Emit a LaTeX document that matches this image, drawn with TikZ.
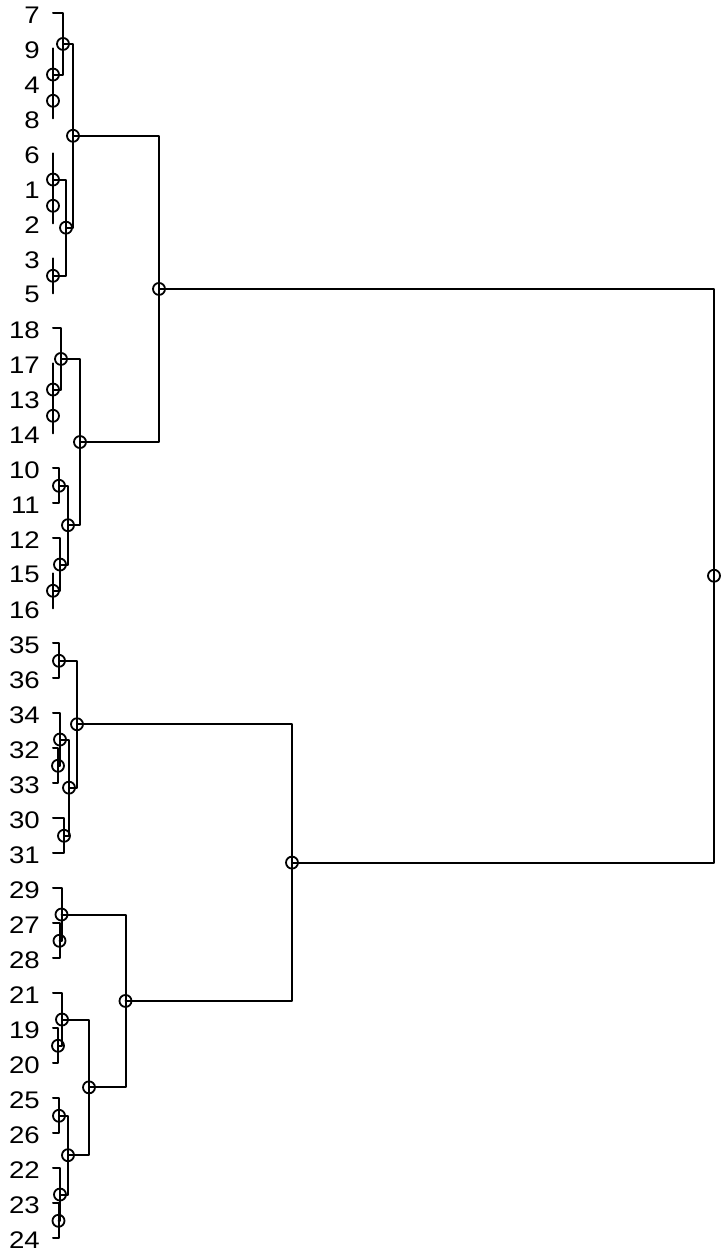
\documentclass[tikz,border=0pt]{standalone}
\usepackage{fontspec}
\setmainfont[FakeStretch=1.15]{Liberation Sans}
\begin{document}
\begin{tikzpicture}[x=1pt,y=-1pt,
  edge/.style={line width=2pt,line cap=round,line join=round},
  nd/.style={draw,circle,line width=1.8pt,minimum size=12pt,inner sep=0pt},
  lab/.style={anchor=east,inner sep=0pt,font=\fontsize{24}{24}\selectfont}]
\useasboundingbox (0,0) rectangle (720,1257);
% leaves
\foreach \nm [count=\i from 0] in {7,9,4,8,6,1,2,3,5,18,17,13,14,10,11,12,15,16,35,36,34,32,33,30,31,29,27,28,21,19,20,25,26,22,23,24}{
  \coordinate (L\nm) at (53,{13.3+35*\i});
  \node[lab] (t\nm) at (40,{14.8+35*\i}) {\nm};
}
% internal nodes
\node[nd] (a1) at (53,100.8) {};
\node[nd] (a2) at (53,74.55) {};
\node[nd] (a3) at (63,43.925) {};
\node[nd] (a4) at (53,205.8) {};
\node[nd] (a5) at (53,179.55) {};
\node[nd] (a6) at (53,275.8) {};
\node[nd] (a7) at (66,227.675) {};
\node[nd] (a8) at (73,135.8) {};
\node[nd] (b1) at (53,415.8) {};
\node[nd] (b2) at (53,389.55) {};
\node[nd] (b3) at (61,358.925) {};
\node[nd] (b4) at (59,485.8) {};
\node[nd] (b5) at (53,590.8) {};
\node[nd] (b6) at (60,564.55) {};
\node[nd] (b7) at (68,525.175) {};
\node[nd] (b8) at (80,442.05) {};
\node[nd] (ab) at (159,288.925) {};
\node[nd] (c1) at (59,660.8) {};
\node[nd] (c2) at (58,765.8) {};
\node[nd] (c3) at (60,739.55) {};
\node[nd] (c4) at (64,835.8) {};
\node[nd] (c5) at (69,787.675) {};
\node[nd] (c6) at (77,724.2375) {};
\node[nd] (d1) at (59.5,940.8) {};
\node[nd] (d2) at (61.5,914.55) {};
\node[nd] (d3) at (58,1045.8) {};
\node[nd] (d4) at (62,1019.55) {};
\node[nd] (d5) at (59,1115.8) {};
\node[nd] (d6) at (58.5,1220.8) {};
\node[nd] (d7) at (60,1194.55) {};
\node[nd] (d8) at (68,1155.175) {};
\node[nd] (d9) at (89,1087.3625) {};
\node[nd] (d10) at (125.5,1000.956) {};
\node[nd] (cd) at (292,862.597) {};
\node[nd] (root) at (714,575.76) {};
% edges
\begin{scope}[edge]
\draw (a1.center) |- (L4); \draw (a1.center) |- (L8);
\draw (a2.center) |- (L9); \draw (a2.center) |- (a1.center);
\draw (a3.center) |- (L7); \draw (a3.center) |- (a2.center);
\draw (a4.center) |- (L1); \draw (a4.center) |- (L2);
\draw (a5.center) |- (L6); \draw (a5.center) |- (a4.center);
\draw (a6.center) |- (L3); \draw (a6.center) |- (L5);
\draw (a7.center) |- (a5.center); \draw (a7.center) |- (a6.center);
\draw (a8.center) |- (a3.center); \draw (a8.center) |- (a7.center);
\draw (b1.center) |- (L13); \draw (b1.center) |- (L14);
\draw (b2.center) |- (L17); \draw (b2.center) |- (b1.center);
\draw (b3.center) |- (L18); \draw (b3.center) |- (b2.center);
\draw (b4.center) |- (L10); \draw (b4.center) |- (L11);
\draw (b5.center) |- (L15); \draw (b5.center) |- (L16);
\draw (b6.center) |- (L12); \draw (b6.center) |- (b5.center);
\draw (b7.center) |- (b4.center); \draw (b7.center) |- (b6.center);
\draw (b8.center) |- (b3.center); \draw (b8.center) |- (b7.center);
\draw (ab.center) |- (a8.center); \draw (ab.center) |- (b8.center);
\draw (c1.center) |- (L35); \draw (c1.center) |- (L36);
\draw (c2.center) |- (L32); \draw (c2.center) |- (L33);
\draw (c3.center) |- (L34); \draw (c3.center) |- (c2.center);
\draw (c4.center) |- (L30); \draw (c4.center) |- (L31);
\draw (c5.center) |- (c3.center); \draw (c5.center) |- (c4.center);
\draw (c6.center) |- (c1.center); \draw (c6.center) |- (c5.center);
\draw (d1.center) |- (L27); \draw (d1.center) |- (L28);
\draw (d2.center) |- (L29); \draw (d2.center) |- (d1.center);
\draw (d3.center) |- (L19); \draw (d3.center) |- (L20);
\draw (d4.center) |- (L21); \draw (d4.center) |- (d3.center);
\draw (d5.center) |- (L25); \draw (d5.center) |- (L26);
\draw (d6.center) |- (L23); \draw (d6.center) |- (L24);
\draw (d7.center) |- (L22); \draw (d7.center) |- (d6.center);
\draw (d8.center) |- (d5.center); \draw (d8.center) |- (d7.center);
\draw (d9.center) |- (d4.center); \draw (d9.center) |- (d8.center);
\draw (d10.center) |- (d2.center); \draw (d10.center) |- (d9.center);
\draw (cd.center) |- (c6.center); \draw (cd.center) |- (d10.center);
\draw (root.center) |- (ab.center); \draw (root.center) |- (cd.center);
\end{scope}
\end{tikzpicture}
\end{document}
